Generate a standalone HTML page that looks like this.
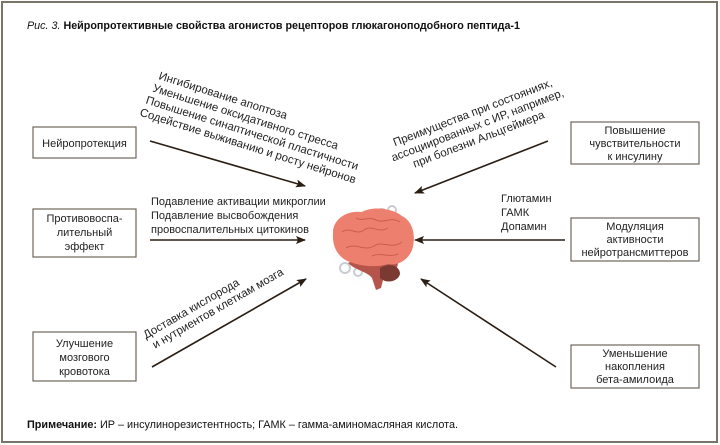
<!DOCTYPE html>
<html><head><meta charset="utf-8"><style>
html,body{margin:0;padding:0;background:#fff;}
svg{display:block;font-family:"Liberation Sans",sans-serif;}
</style></head><body>
<svg width="720" height="445" viewBox="0 0 720 445" xmlns="http://www.w3.org/2000/svg">
<defs>
<marker id="ah" markerWidth="10" markerHeight="8" refX="9" refY="4" orient="auto" markerUnits="userSpaceOnUse">
<path d="M0,0 L10,4 L0,8 L2,4 Z" fill="#2a1e14"/>
</marker>
<radialGradient id="glow" cx="50%" cy="50%" r="50%"><stop offset="0" stop-color="#e8eef4"/><stop offset="1" stop-color="#fff" stop-opacity="0"/></radialGradient>
</defs>
<rect x="2" y="2" width="715" height="440" fill="#fff" stroke="#7a7468" stroke-width="2"/>
<text x="27" y="29" font-size="11" fill="#111" textLength="493" lengthAdjust="spacingAndGlyphs"><tspan font-style="italic">Рис. 3.</tspan> <tspan font-weight="bold">Нейропротективные свойства агонистов рецепторов глюкагоноподобного пептида-1</tspan></text>

<g fill="#fff" stroke="#6e665c" stroke-width="1.2">
<rect x="33" y="127" width="103" height="31"/>
<rect x="33" y="209" width="103" height="48"/>
<rect x="33" y="332" width="103" height="49"/>
<rect x="571" y="122" width="128" height="42"/>
<rect x="571" y="218" width="128" height="43"/>
<rect x="571" y="345" width="128" height="43"/>
</g>
<g font-size="11" fill="#222" text-anchor="middle">
<text x="84.5" y="147">Нейропротекция</text>
<text x="84.5" y="222">Противовоспа-</text>
<text x="84.5" y="236">лительный</text>
<text x="84.5" y="250">эффект</text>
<text x="84.5" y="347">Улучшение</text>
<text x="84.5" y="361">мозгового</text>
<text x="84.5" y="375">кровотока</text>
<text x="635" y="134">Повышение</text>
<text x="635" y="147">чувствительности</text>
<text x="635" y="160">к инсулину</text>
<text x="635" y="230">Модуляция</text>
<text x="635" y="243">активности</text>
<text x="635" y="256">нейротрансмиттеров</text>
<text x="635" y="357">Уменьшение</text>
<text x="635" y="370">накопления</text>
<text x="635" y="383">бета-амилоида</text>
</g>

<g stroke="#2a1e14" stroke-width="1.6" fill="none" marker-end="url(#ah)">
<line x1="150" y1="141" x2="305" y2="186"/>
<line x1="150" y1="240" x2="305" y2="240"/>
<line x1="152" y1="367" x2="306" y2="279"/>
<line x1="548" y1="141" x2="415" y2="193"/>
<line x1="565" y1="240" x2="415" y2="240"/>
<line x1="556" y1="367" x2="421" y2="279"/>
</g>

<g font-size="11.5" fill="#222">
<g transform="translate(158,79) rotate(17.5)">
<text x="0" y="0">Ингибирование апоптоза</text>
<text x="-2" y="13.5">Уменьшение оксидативного стресса</text>
<text x="-5" y="27">Повышение синаптической пластичности</text>
<text x="-7" y="40.5">Содействие выживанию и росту нейронов</text>
</g>
</g>
<g font-size="11" fill="#222">
<text x="151" y="205">Подавление активации микроглии</text>
<text x="151" y="219">Подавление высвобождения</text>
<text x="151" y="233">провоспалительных цитокинов</text>
<text x="501" y="202">Глютамин</text>
<text x="501" y="216">ГАМК</text>
<text x="501" y="230">Допамин</text>
</g>
<g font-size="11.5" fill="#222">
<g transform="translate(474,116) rotate(-21)" text-anchor="middle">
<text x="0" y="0">Преимущества при состояниях,</text>
<text x="0" y="13.5">ассоциированных с ИР, например,</text>
<text x="-4" y="27">при болезни Альцгеймера</text>
</g>
<g transform="translate(146,339) rotate(-30)">
<text x="0" y="0">Доставка кислорода</text>
<text x="3" y="13">и нутриентов клеткам мозга</text>
</g>
</g>

<!-- brain -->
<circle cx="372" cy="248" r="48" fill="url(#glow)"/>
<g fill="none" stroke="#c9cdd2" stroke-width="2">
<circle cx="382" cy="214" r="5"/><circle cx="392" cy="210" r="4"/>
<circle cx="345" cy="268" r="5"/><circle cx="358" cy="272" r="4"/>
</g>
<path d="M348,263 C355,270 368,272 372,278 L376,290 L381,288 L384,276 C392,276 398,270 398,262 C394,258 360,256 348,263 Z" fill="#b5544a"/>
<path d="M380,268 C390,262 400,266 400,274 C398,282 386,284 380,278 Z" fill="#7a3a32"/>
<path d="M333,234 C332,220 346,210 362,212 C372,206 392,208 402,216 C414,222 416,238 412,250 C408,260 398,266 388,264 C376,268 360,266 350,262 C338,258 332,246 333,234 Z" fill="#ec7f6e"/>
<g fill="none" stroke="#c95f50" stroke-width="1">
<path d="M342,232 C350,226 356,236 364,230 C372,224 378,234 388,228"/>
<path d="M346,248 C356,242 364,252 374,246 C382,240 392,250 402,242"/>
<path d="M356,218 C362,222 368,216 376,220 C384,224 392,216 400,222"/>
<path d="M372,256 C380,252 390,258 398,254"/>
</g>

<text x="27" y="428" font-size="11" fill="#111" textLength="431" lengthAdjust="spacingAndGlyphs"><tspan font-weight="bold">Примечание:</tspan>  ИР – инсулинорезистентность; ГАМК – гамма-аминомасляная кислота.</text>
</svg>
</body></html>
